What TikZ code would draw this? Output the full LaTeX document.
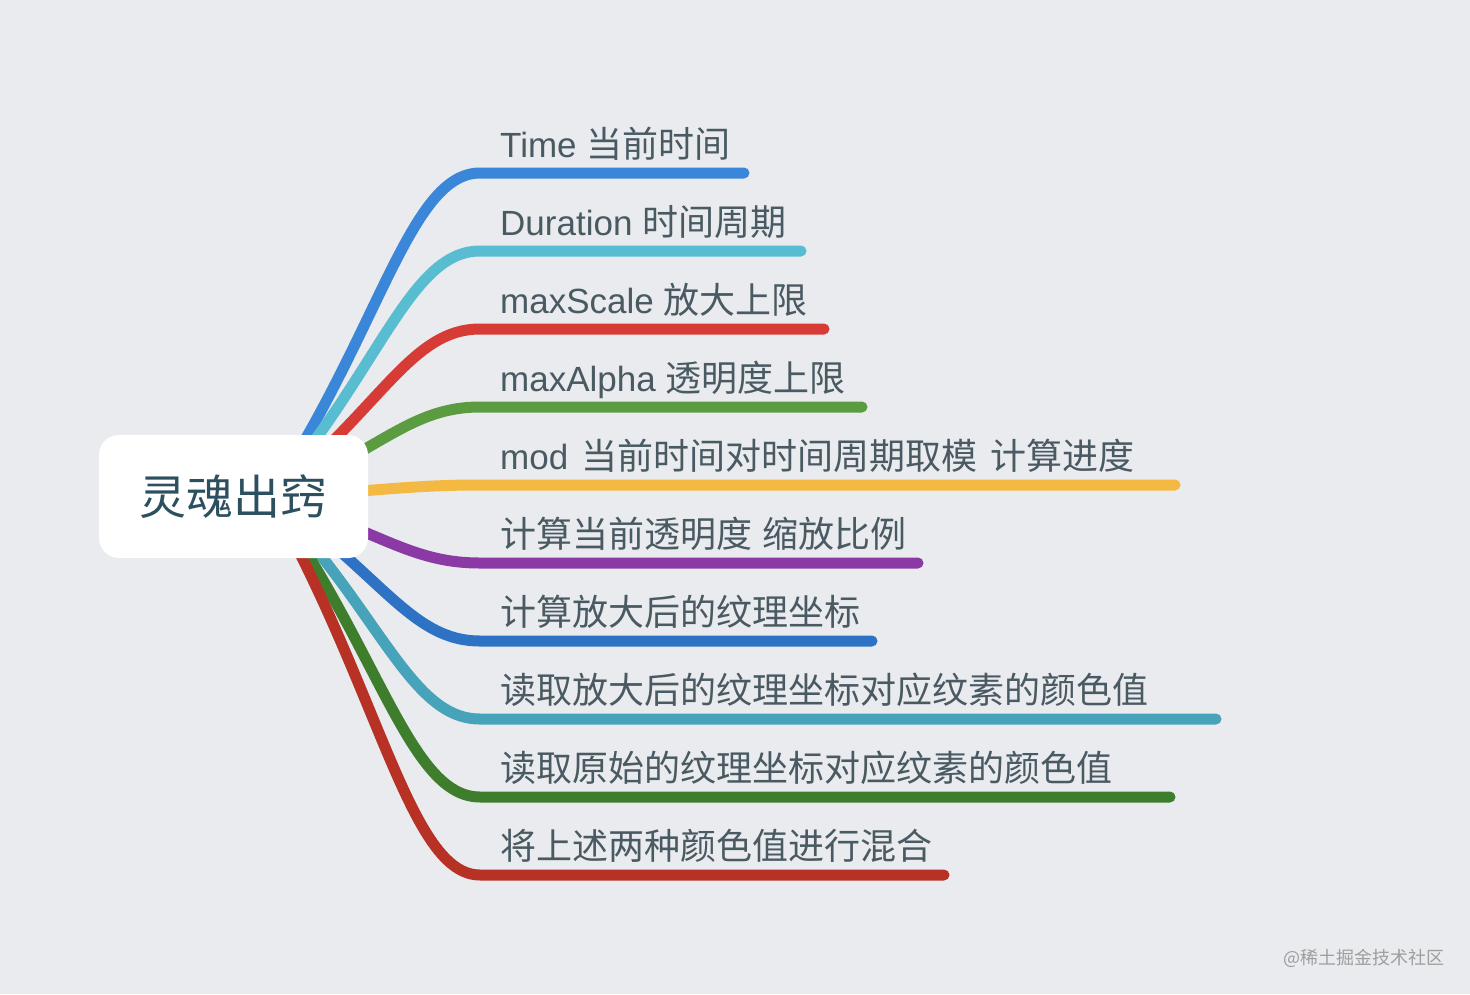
\documentclass[tikz,border=0pt]{standalone}
\usepackage{fontspec}
\setmainfont{Liberation Sans}
\newfontfamily\cjk{Noto Sans CJK SC}
\newcommand\zh[1]{{\cjk\fontsize{36}{40}\selectfont #1}}
\definecolor{bg}{HTML}{E9EBEE}
\definecolor{txt}{HTML}{4A5A62}
\definecolor{roottxt}{HTML}{2D5060}
\definecolor{cA}{HTML}{3A87D9}
\definecolor{cB}{HTML}{58BDD0}
\definecolor{cC}{HTML}{D63B36}
\definecolor{cD}{HTML}{5A9C3F}
\definecolor{cE}{HTML}{F4B942}
\definecolor{cF}{HTML}{8B3AA5}
\definecolor{cG}{HTML}{2E72C6}
\definecolor{cH}{HTML}{46A3B9}
\definecolor{cI}{HTML}{3D7D2C}
\definecolor{cJ}{HTML}{B73124}
\tikzset{
  branch/.style={line width=11pt, line cap=round},
  leaf/.style={anchor=base west, inner sep=0pt, text=txt, font=\fontsize{35}{40}\selectfont},
  rootbox/.style={fill=white, rounded corners=20pt, minimum width=269pt, minimum height=123pt, inner sep=0pt, text=roottxt, font=\cjk\fontsize{47}{52}\selectfont}
}
\begin{document}
\begin{tikzpicture}[x=1pt,y=-1pt]
\useasboundingbox (0,0) rectangle (1470,994);
\fill[bg] (0,0) rectangle (1470,994);
\coordinate (s) at (270,497);
\coordinate (tA) at (480,173); \coordinate (eA) at (744,173);
\coordinate (tB) at (480,251); \coordinate (eB) at (801,251);
\coordinate (tC) at (480,329); \coordinate (eC) at (824,329);
\coordinate (tD) at (480,407); \coordinate (eD) at (862,407);
\coordinate (tE) at (480,485); \coordinate (eE) at (1175,485);
\coordinate (tF) at (480,563); \coordinate (eF) at (918,563);
\coordinate (tG) at (480,641); \coordinate (eG) at (872,641);
\coordinate (tH) at (480,719); \coordinate (eH) at (1216,719);
\coordinate (tI) at (480,797); \coordinate (eI) at (1170,797);
\coordinate (tJ) at (480,875); \coordinate (eJ) at (944,875);
\draw[branch,cA] (s) .. controls (380,330) and (410,173) .. (tA) -- (eA);
\draw[branch,cB] (s) .. controls (380,370) and (410,251) .. (tB) -- (eB);
\draw[branch,cC] (s) .. controls (380,411) and (410,329) .. (tC) -- (eC);
\draw[branch,cD] (s) .. controls (380,451) and (410,407) .. (tD) -- (eD);
\draw[branch,cE] (s) .. controls (380,491) and (410,485) .. (tE) -- (eE);
\draw[branch,cF] (s) .. controls (380,531) and (410,563) .. (tF) -- (eF);
\draw[branch,cG] (s) .. controls (380,571) and (410,641) .. (tG) -- (eG);
\draw[branch,cH] (s) .. controls (380,611) and (410,719) .. (tH) -- (eH);
\draw[branch,cI] (s) .. controls (380,652) and (410,797) .. (tI) -- (eI);
\draw[branch,cJ] (s) .. controls (380,692) and (410,875) .. (tJ) -- (eJ);
\node[rootbox] (root) at (233.5,496.5) {灵魂出窍};
\node[leaf] (nA) at (500,157) {Time \zh{当前时间}};
\node[leaf] (nB) at (500,235) {Duration \zh{时间周期}};
\node[leaf] (nC) at (500,313) {maxScale \zh{放大上限}};
\node[leaf] (nD) at (500,391) {maxAlpha \zh{透明度上限}};
\node[leaf] (nE) at (500,469) {mod\hspace{13pt}\zh{当前时间对时间周期取模\hspace{13pt}计算进度}};
\node[leaf] (nF) at (500,547) {\zh{计算当前透明度\hspace{10pt}缩放比例}};
\node[leaf] (nG) at (500,625) {\zh{计算放大后的纹理坐标}};
\node[leaf] (nH) at (500,703) {\zh{读取放大后的纹理坐标对应纹素的颜色值}};
\node[leaf] (nI) at (500,781) {\zh{读取原始的纹理坐标对应纹素的颜色值}};
\node[leaf] (nJ) at (500,859) {\zh{将上述两种颜色值进行混合}};
\node[anchor=base west, inner sep=0pt, text=black!38, font=\cjk\fontsize{18}{20}\selectfont] (wm) at (1283,964) {@稀土掘金技术社区};
\end{tikzpicture}
\end{document}
